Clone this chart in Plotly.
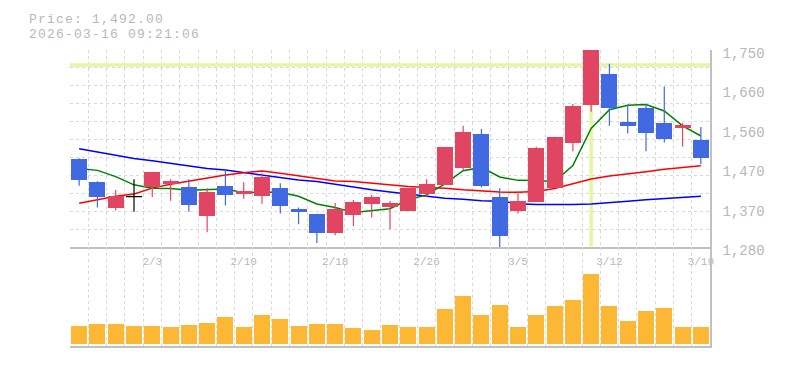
import plotly.graph_objects as go

# ---------------- data ----------------
n_days = 35
x_idx = list(range(n_days))
date_tick_idx = [4, 9, 14, 19, 24, 29, 34]
date_tick_text = ["2/3", "2/10", "2/18", "2/26", "3/5", "3/12", "3/19"]

opens = [1491.5, 1435.1, 1374.7, 1400.6, 1423.4, 1431.1, 1423.4, 1353.6, 1425.7, 1407.6,
         1402.9, 1421.0, 1371.7, 1359.9, 1313.6, 1355.9, 1384.1, 1375.6, 1367.7, 1407.6,
         1428.8, 1468.0, 1550.3, 1399.9, 1367.7, 1388.8, 1421.7, 1527.5, 1619.1, 1693.6,
         1578.5, 1611.4, 1576.1, 1565.0, 1536.2]
highs = [1492.0, 1437.5, 1416.3, 1442.2, 1458.6, 1442.2, 1442.2, 1421.0, 1463.3, 1435.1,
         1456.3, 1432.8, 1374.7, 1359.9, 1385.8, 1392.8, 1404.6, 1390.5, 1421.0, 1442.2,
         1519.7, 1569.8, 1562.0, 1421.0, 1414.0, 1519.7, 1543.2, 1621.5, 1750.0, 1717.1,
         1620.8, 1620.8, 1663.1, 1576.1, 1566.7]
lows = [1426.4, 1374.7, 1367.7, 1364.6, 1399.9, 1391.2, 1364.6, 1316.0, 1379.4, 1395.9,
        1384.1, 1360.6, 1334.8, 1290.1, 1308.9, 1330.1, 1351.2, 1323.0, 1367.7, 1400.6,
        1428.8, 1463.3, 1423.4, 1280.0, 1360.6, 1388.8, 1421.7, 1508.7, 1602.7, 1569.8,
        1551.0, 1508.7, 1529.8, 1520.4, 1478.1]
closes = [1440.5, 1400.6, 1402.2, 1400.6, 1458.6, 1437.5, 1381.8, 1411.6, 1405.3, 1414.0,
          1446.9, 1379.4, 1363.0, 1313.6, 1371.7, 1388.1, 1399.9, 1385.8, 1421.0, 1430.4,
          1519.7, 1555.0, 1425.7, 1306.6, 1390.5, 1517.4, 1543.2, 1616.0, 1750.0, 1612.1,
          1569.8, 1553.3, 1539.2, 1571.4, 1492.0]
volume = [18000, 20000, 20000, 18000, 18000, 17000, 19000, 21000, 27000, 17000,
          29000, 25000, 18000, 20000, 20000, 16000, 14000, 19000, 17000, 17000,
          35000, 48000, 29000, 39000, 17000, 29000, 38000, 44000, 70700, 38700,
          22700, 32700, 35700, 16700, 16700]
ma_short = [1468.0, 1463.3, 1448.5, 1428.8, 1420.5, 1419.9, 1416.1, 1418.0, 1419.0, 1410.0,
            1411.9, 1411.4, 1401.7, 1383.4, 1374.9, 1363.2, 1367.3, 1371.8, 1393.3, 1405.0,
            1431.4, 1462.4, 1470.4, 1447.5, 1439.5, 1439.0, 1436.7, 1474.7, 1563.4, 1607.7,
            1618.2, 1620.2, 1604.9, 1569.1, 1545.2]
ma_mid = [1385.0, 1393.5, 1401.5, 1406.9, 1421.0, 1430.4, 1438.2, 1446.1, 1452.3, 1457.9,
          1461.7, 1456.3, 1450.4, 1445.7, 1438.2, 1436.7, 1432.8, 1428.0, 1425.0, 1422.6,
          1421.0, 1417.0, 1414.7, 1411.6, 1411.1, 1413.2, 1420.3, 1431.6, 1442.9, 1449.7,
          1454.4, 1460.2, 1466.1, 1470.8, 1474.3]
ma_long = [1515.0, 1507.2, 1499.3, 1491.5, 1486.1, 1479.8, 1473.4, 1468.0, 1464.0, 1457.9,
           1452.3, 1446.1, 1440.5, 1436.7, 1429.7, 1422.9, 1417.0, 1411.6, 1406.2, 1400.6,
           1396.8, 1394.5, 1391.2, 1389.7, 1384.1, 1381.8, 1381.1, 1381.8, 1383.4, 1385.8,
           1389.7, 1393.5, 1395.9, 1399.1, 1401.5]
price_tick_vals = [1280, 1374, 1468, 1562, 1656, 1750]
price_tick_text = ["1,280", "1,370", "1,470", "1,560", "1,660", "1,750"]
ref_price = 1714
ref_day = 28
header_price = "Price: 1,492.00"
header_time = "2026-03-16 09:21:06"

# ---------------- styles ----------------
UP = "#e04562"
DOWN = "#4169e1"
DOJI = "#000000"
VOL = "#fcb734"
GRID = "#d9d9d9"
AXIS = "#c0c0c0"
TXT = "#b8b8b8"
REF = "#e4f6a6"
FONT = "Liberation Mono"
BODY_W = 0.875
y_lo, y_hi = 1280, 1750

fig = go.Figure()

# reference lines (behind everything)
fig.add_trace(go.Scatter(x=[-0.5, n_days - 0.5], y=[ref_price, ref_price], mode="lines",
                         line=dict(color=REF, width=3.5), hoverinfo="skip",
                         xaxis="x", yaxis="y"))
fig.add_trace(go.Scatter(x=[ref_day, ref_day], y=[y_lo + 2, y_hi], mode="lines",
                         line=dict(color=REF, width=3.5), hoverinfo="skip",
                         xaxis="x", yaxis="y"))

# moving averages
for vals, col in [(ma_long, "#0000ff"), (ma_mid, "#ff0000"), (ma_short, "#008000")]:
    fig.add_trace(go.Scatter(x=x_idx, y=vals, mode="lines",
                             line=dict(color=col, width=1.5, shape="linear"),
                             hoverinfo="skip", xaxis="x", yaxis="y"))

# candles on an overlaying axis so they sit above the MA lines
body_base, body_len, body_col = [], [], []
for o, c in zip(opens, closes):
    body_base.append(min(o, c))
    body_len.append(abs(c - o))
    body_col.append(UP if c > o else (DOWN if c < o else DOJI))

for col in (UP, DOWN, DOJI):
    wx, wy = [], []
    for i in x_idx:
        if body_col[i] == col:
            wx += [i, i, None]
            wy += [lows[i], highs[i], None]
            if col == DOJI:
                wx += [i - BODY_W / 2, i + BODY_W / 2, None]
                wy += [opens[i], opens[i], None]
    fig.add_trace(go.Scatter(x=wx, y=wy, mode="lines", line=dict(color=col, width=1.2),
                             hoverinfo="skip", xaxis="x", yaxis="y3"))

fig.add_trace(go.Bar(x=x_idx, y=body_len, base=body_base, width=BODY_W,
                     marker=dict(color=body_col, line=dict(width=0)),
                     xaxis="x", yaxis="y3"))

# volume
fig.add_trace(go.Bar(x=x_idx, y=volume, width=BODY_W, marker=dict(color=VOL, line=dict(width=0)),
                     xaxis="x2", yaxis="y2"))

minor_x = dict(tickmode="linear", tick0=-0.5, dtick=1, showgrid=True, gridcolor=GRID,
               griddash="3px,3px", gridwidth=1, ticks="")

# the page body has an 8px margin, so the figure is sized to fit the window
fig.update_layout(
    width=777, height=362,
    margin=dict(l=62, r=75, t=42, b=20),
    paper_bgcolor="white", plot_bgcolor="white",
    showlegend=False, bargap=0,
    font=dict(family=FONT, color=TXT),
    xaxis=dict(domain=[0, 1], anchor="y", range=[-0.5, n_days - 0.5],
               tickmode="array", tickvals=date_tick_idx, ticktext=date_tick_text,
               tickfont=dict(family=FONT, size=11, color=TXT),
               showgrid=False, zeroline=False, ticks="", ticklabelstandoff=3,
               showline=True, linecolor=AXIS, linewidth=1.5,
               minor=minor_x),
    yaxis=dict(domain=[1 / 3, 1], anchor="x", range=[y_lo, y_hi], side="right",
               tickmode="array", tickvals=price_tick_vals, ticktext=price_tick_text,
               tickfont=dict(family=FONT, size=14, color=TXT),
               showgrid=False, zeroline=False, ticks="", ticklabelstandoff=8,
               ticklabelshift=3,
               showline=True, linecolor=AXIS, linewidth=1.5,
               minor=dict(tickmode="linear", tick0=y_lo, dtick=(y_hi - y_lo) / 11,
                          showgrid=True, gridcolor=GRID, griddash="3px,3px",
                          gridwidth=1, ticks="")),
    yaxis3=dict(overlaying="y", anchor="x", range=[y_lo, y_hi], side="right",
                showgrid=False, zeroline=False, showticklabels=False, ticks="",
                showline=False),
    xaxis2=dict(domain=[0, 1], anchor="y2", range=[-0.5, n_days - 0.5], matches="x",
                showticklabels=False, showgrid=False, zeroline=False, ticks="",
                showline=True, linecolor=AXIS, linewidth=1.5, minor=minor_x),
    yaxis2=dict(domain=[0, 1 / 3], anchor="x2", range=[-2000, 98000], side="right",
                showticklabels=False, showgrid=False, zeroline=False, ticks="",
                showline=True, linecolor=AXIS, linewidth=1.5),
)

SPACED = '<span style="letter-spacing:1.2px">{}</span>'
fig.add_annotation(text=SPACED.format(header_price), xref="paper", yref="paper",
                   x=-42.7 / 640, y=(350 - 19) / 300, xanchor="left", yanchor="middle",
                   showarrow=False, font=dict(family=FONT, size=13, color=TXT))
fig.add_annotation(text=SPACED.format(header_time), xref="paper", yref="paper",
                   x=-42.7 / 640, y=(350 - 34) / 300, xanchor="left", yanchor="middle",
                   showarrow=False, font=dict(family=FONT, size=13, color=TXT))

fig.write_html("out.html")
